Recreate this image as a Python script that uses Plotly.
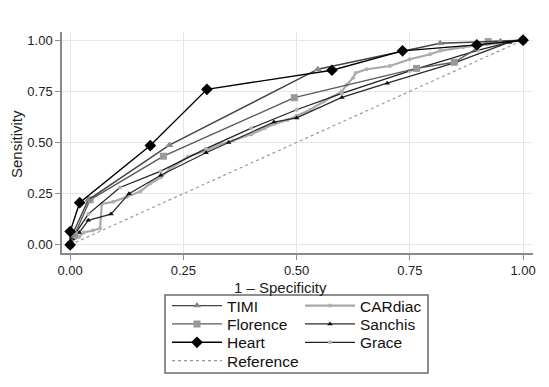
import plotly.graph_objects as go

# ---- data ----
timi_x = [0.0, 0.005, 0.04, 0.219, 0.547, 0.817, 0.95, 1.0]
timi_y = [0.0, 0.05, 0.22, 0.487, 0.858, 0.985, 0.995, 1.0]

cardiac_x = [0.0, 0.005, 0.02, 0.03, 0.05, 0.066, 0.07, 0.095, 0.125, 0.155, 0.177, 0.2, 0.22,
             0.26, 0.3, 0.33, 0.36, 0.4, 0.43, 0.45, 0.48, 0.5, 0.53, 0.56, 0.6, 0.61, 0.625,
             0.63, 0.655, 0.706, 0.75, 0.795, 0.817, 0.868, 0.92, 0.97, 1.0]
cardiac_y = [0.0, 0.02, 0.04, 0.06, 0.07, 0.08, 0.2, 0.21, 0.235, 0.26, 0.3, 0.33, 0.37,
             0.43, 0.46, 0.49, 0.51, 0.54, 0.57, 0.59, 0.61, 0.63, 0.66, 0.7, 0.75, 0.78, 0.817,
             0.84, 0.858, 0.874, 0.907, 0.931, 0.948, 0.966, 0.98, 0.99, 1.0]

florence_x = [0.0, 0.01, 0.044, 0.206, 0.495, 0.765, 0.848, 0.923, 1.0]
florence_y = [0.0, 0.05, 0.22, 0.433, 0.719, 0.862, 0.892, 0.993, 1.0]

sanchis_x = [0.0, 0.005, 0.02, 0.04, 0.09, 0.13, 0.2, 0.3, 0.35, 0.45, 0.5, 0.6, 0.7, 0.85, 0.97, 1.0]
sanchis_y = [0.0, 0.03, 0.06, 0.12, 0.15, 0.25, 0.34, 0.45, 0.5, 0.6, 0.62, 0.72, 0.79, 0.89, 0.99, 1.0]

heart_x = [0.0, 0.0, 0.021, 0.177, 0.302, 0.578, 0.734, 0.898, 1.0]
heart_y = [0.0, 0.065, 0.206, 0.485, 0.76, 0.853, 0.948, 0.977, 1.0]

grace_x = [0.0, 0.01, 0.04, 0.11, 0.2, 0.3, 0.4, 0.5, 0.6, 0.75, 0.9, 0.97, 1.0]
grace_y = [0.0, 0.05, 0.15, 0.28, 0.36, 0.47, 0.57, 0.66, 0.74, 0.85, 0.95, 0.99, 1.0]

ref_x = [0.0, 1.0]
ref_y = [0.0, 1.0]

ticks = [0.0, 0.25, 0.5, 0.75, 1.0]
tick_labels = ["0.00", "0.25", "0.50", "0.75", "1.00"]

FONT = "Liberation Sans, Arial, sans-serif"

# The page body has an 8px margin, so the figure is drawn 8px in from the
# window's top-left corner; size and place everything to compensate.
OFF = 8
WIN_W, WIN_H = 549, 387
PLOT_L, PLOT_R, PLOT_T, PLOT_B = 62, 533, 32, 253   # plot area in window pixels
W, H = WIN_W - OFF, WIN_H - OFF
L = PLOT_L - OFF
T = PLOT_T - OFF
R = WIN_W - PLOT_R
B = WIN_H - PLOT_B
pw, ph = W - L - R, H - T - B


def px_x(p):
    """window pixel -> paper x"""
    return (p - PLOT_L) / pw


def px_y(p):
    """window pixel -> paper y"""
    return (PLOT_B - p) / ph


fig = go.Figure()

fig.add_trace(go.Scatter(x=ref_x, y=ref_y, mode="lines", name="Reference",
                         line=dict(color="#9a9a9a", width=1.2, dash="dot"),
                         legend="legend7"))
fig.add_trace(go.Scatter(x=cardiac_x, y=cardiac_y, mode="lines+markers", name="CARdiac",
                         line=dict(color="#a8a8a8", width=2.2),
                         marker=dict(symbol="circle", size=4, color="#b0b0b0"),
                         legend="legend2"))
fig.add_trace(go.Scatter(x=grace_x, y=grace_y, mode="lines+markers", name="Grace",
                         line=dict(color="#222222", width=1.3),
                         marker=dict(symbol="circle", size=4, color="#b0b0b0"),
                         legend="legend6"))
fig.add_trace(go.Scatter(x=sanchis_x, y=sanchis_y, mode="lines+markers", name="Sanchis",
                         line=dict(color="#2a2a2a", width=1.3),
                         marker=dict(symbol="triangle-up", size=5, color="#111111"),
                         legend="legend4"))
fig.add_trace(go.Scatter(x=florence_x, y=florence_y, mode="lines+markers", name="Florence",
                         line=dict(color="#5a5a5a", width=1.4),
                         marker=dict(symbol="square", size=7, color="#999999"),
                         legend="legend3"))
fig.add_trace(go.Scatter(x=timi_x, y=timi_y, mode="lines+markers", name="TIMI",
                         line=dict(color="#444444", width=1.4),
                         marker=dict(symbol="triangle-up", size=7, color="#888888"),
                         legend="legend"))
fig.add_trace(go.Scatter(x=heart_x, y=heart_y, mode="lines+markers", name="Heart",
                         line=dict(color="#000000", width=1.4),
                         marker=dict(symbol="diamond", size=9, color="#000000"),
                         legend="legend5"))

legend_common = dict(orientation="v", xanchor="left", yanchor="middle",
                     font=dict(family=FONT, size=15.5, color="#111111"),
                     bgcolor="rgba(0,0,0,0)", borderwidth=0, itemwidth=50,
                     tracegroupgap=0, itemclick=False, itemdoubleclick=False)

COL1, COL2 = 167, 300
ROWS = [306, 324.3, 342.7, 361]
legend_pos = {
    "legend": (COL1, ROWS[0]),
    "legend2": (COL2, ROWS[0]),
    "legend3": (COL1, ROWS[1]),
    "legend4": (COL2, ROWS[1]),
    "legend5": (COL1, ROWS[2]),
    "legend6": (COL2, ROWS[2]),
    "legend7": (COL1, ROWS[3]),
}
legends = {k: dict(x=px_x(v[0]), y=px_y(v[1]), **legend_common) for k, v in legend_pos.items()}

fig.update_layout(
    width=W, height=H,
    margin=dict(l=L, r=R, t=T, b=B, pad=0, autoexpand=False),
    paper_bgcolor="white", plot_bgcolor="white",
    font=dict(family=FONT, size=13, color="#222222"),
    showlegend=True,
    **legends,
    xaxis=dict(range=[-0.018, 1.022], tickvals=ticks, ticktext=tick_labels,
               showgrid=True, gridcolor="#e6e6e6", gridwidth=1, zeroline=False,
               showline=True, linecolor="#8a8a8a", linewidth=1.5,
               ticks="outside", ticklen=5, tickcolor="#8a8a8a",
               tickfont=dict(family=FONT, size=13, color="#222222")),
    yaxis=dict(range=[-0.04, 1.04], tickvals=ticks, ticktext=tick_labels,
               showgrid=True, gridcolor="#e6e6e6", gridwidth=1, zeroline=False,
               showline=True, linecolor="#8a8a8a", linewidth=1.5,
               ticks="outside", ticklen=5, tickcolor="#8a8a8a",
               tickfont=dict(family=FONT, size=13, color="#222222")),
    shapes=[dict(type="rect", xref="paper", yref="paper",
                 x0=px_x(165), x1=px_x(428), y0=px_y(295), y1=px_y(373),
                 line=dict(color="#6a6a6a", width=1.5), fillcolor="rgba(0,0,0,0)")],
    annotations=[
        dict(text="1 – Specificity", xref="paper", yref="paper",
             x=px_x(280), y=px_y(287), xanchor="center", yanchor="middle",
             showarrow=False, font=dict(family=FONT, size=15, color="#222222")),
        dict(text="Sensitivity", xref="paper", yref="paper",
             x=px_x(16), y=px_y(144), xanchor="center", yanchor="middle",
             textangle=-90, showarrow=False,
             font=dict(family=FONT, size=15, color="#222222")),
    ],
)

fig.write_html("out.html")
